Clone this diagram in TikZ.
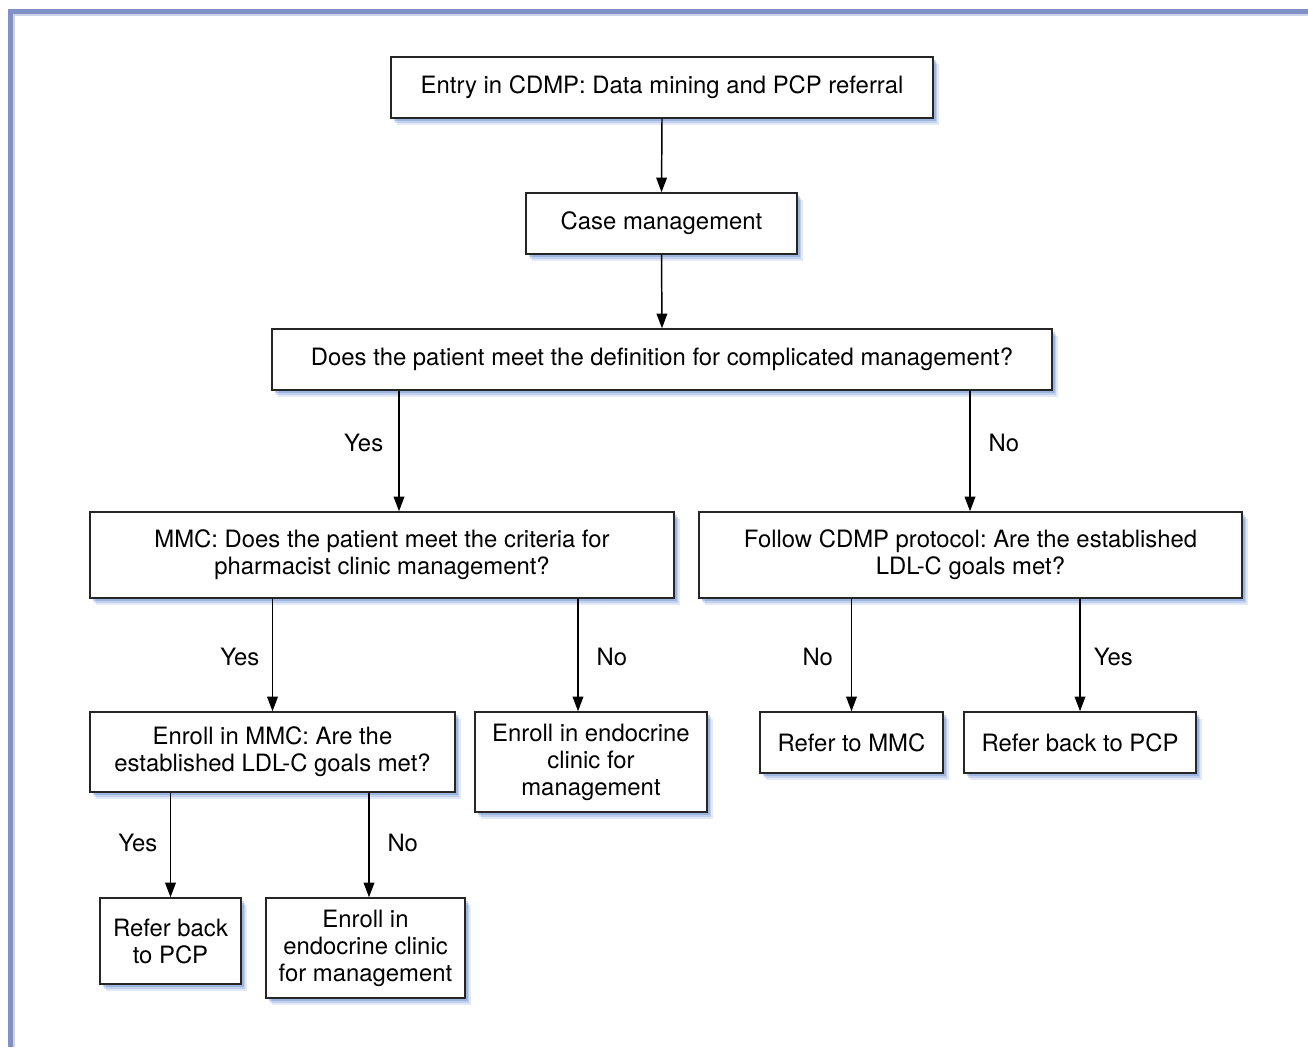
\documentclass[tikz,border=0pt]{standalone}
\usepackage{fontspec}
\setmainfont{TeX Gyre Heros}
\frenchspacing
\usetikzlibrary{arrows.meta,shadows}
\definecolor{frame}{HTML}{8290C8}
\definecolor{shad}{HTML}{4A78C8}
\begin{document}
\begin{tikzpicture}[x=0.75pt,y=-0.75pt,
  box/.style={
    drop shadow={shadow xshift=4.3pt,shadow yshift=-5.0pt,opacity=0.16,fill=shad},
    drop shadow={shadow xshift=3.2pt,shadow yshift=-3.8pt,opacity=0.22,fill=shad},
    drop shadow={shadow xshift=2.1pt,shadow yshift=-2.6pt,opacity=0.3,fill=shad},
    draw=black!85,line width=1.1pt,fill=white,align=center,inner sep=0pt,
    font=\fontsize{17.9pt}{20.3pt}\selectfont},
  conn/.style={line width=1.1pt,-{Triangle[width=8pt,length=11pt]}},
  lab/.style={font=\fontsize{17.9pt}{20.3pt}\selectfont}]
\useasboundingbox (0,0) rectangle (1308,1047);
\fill[frame] (8,9) rectangle (1308,14);
\fill[frame] (8,9) rectangle (13,1047);
\fill[frame!40] (13,14) rectangle (1308,15.5);
\fill[frame!40] (13,14) rectangle (14.5,1047);
% nodes
\node[box,minimum width=542*0.75pt,minimum height=61*0.75pt] (entry) at (662,87.5) {Entry in CDMP: Data mining and PCP referral};
\node[box,minimum width=271*0.75pt,minimum height=61*0.75pt] (case) at (661.5,223.5) {Case management};
\node[box,minimum width=780*0.75pt,minimum height=61*0.75pt] (q1) at (662,359.5) {Does the patient meet the definition for complicated management?};
\node[box,minimum width=584*0.75pt,minimum height=86*0.75pt] (mmc) at (382,555) {MMC: Does the patient meet the criteria for\\pharmacist clinic management?};
\node[box,minimum width=543*0.75pt,minimum height=86*0.75pt] (cdmp) at (970.5,555) {Follow CDMP protocol: Are the established\\LDL-C goals met?};
\node[box,minimum width=365*0.75pt,minimum height=80*0.75pt] (enroll) at (272.5,752) {Enroll in MMC: Are the\\established LDL-C goals met?};
\node[box,minimum width=232*0.75pt,minimum height=100*0.75pt] (endo1) at (591,762) {Enroll in endocrine\\clinic for\\management};
\node[box,minimum width=183*0.75pt,minimum height=61*0.75pt] (refmmc) at (851.5,742.5) {Refer to MMC};
\node[box,minimum width=232*0.75pt,minimum height=61*0.75pt] (refpcp1) at (1080,742.5) {Refer back to PCP};
\node[box,minimum width=141*0.75pt,minimum height=86*0.75pt] (refpcp2) at (170.5,941) {Refer back\\to PCP};
\node[box,minimum width=199*0.75pt,minimum height=100*0.75pt] (endo2) at (365.5,948) {Enroll in\\endocrine clinic\\for management};
% connectors
\draw[conn] (entry.south) -- (case.north);
\draw[conn] (case.south) -- (q1.north);
\draw[conn] (q1.south -| 399,0) -- (mmc.north -| 399,0) node[lab,pos=0.43,left=8pt] {Yes};
\draw[conn] (q1.south -| 970,0) -- (cdmp.north -| 970,0) node[lab,pos=0.43,right=10pt] {No};
\draw[conn] (mmc.south -| enroll.north) -- (enroll.north) node[lab,pos=0.52,left=6pt] {Yes};
\draw[conn] (mmc.south -| 578,0) -- (endo1.north -| 578,0) node[lab,pos=0.52,right=10pt] {No};
\draw[conn] (cdmp.south -| refmmc.north) -- (refmmc.north) node[lab,pos=0.52,left=10pt] {No};
\draw[conn] (cdmp.south -| refpcp1.north) -- (refpcp1.north) node[lab,pos=0.52,right=6.5pt] {Yes};
\draw[conn] (enroll.south -| refpcp2.north) -- (refpcp2.north) node[lab,pos=0.48,left=6pt] {Yes};
\draw[conn] (enroll.south -| 369,0) -- (endo2.north -| 369,0) node[lab,pos=0.48,right=10pt] {No};
\end{tikzpicture}
\end{document}
